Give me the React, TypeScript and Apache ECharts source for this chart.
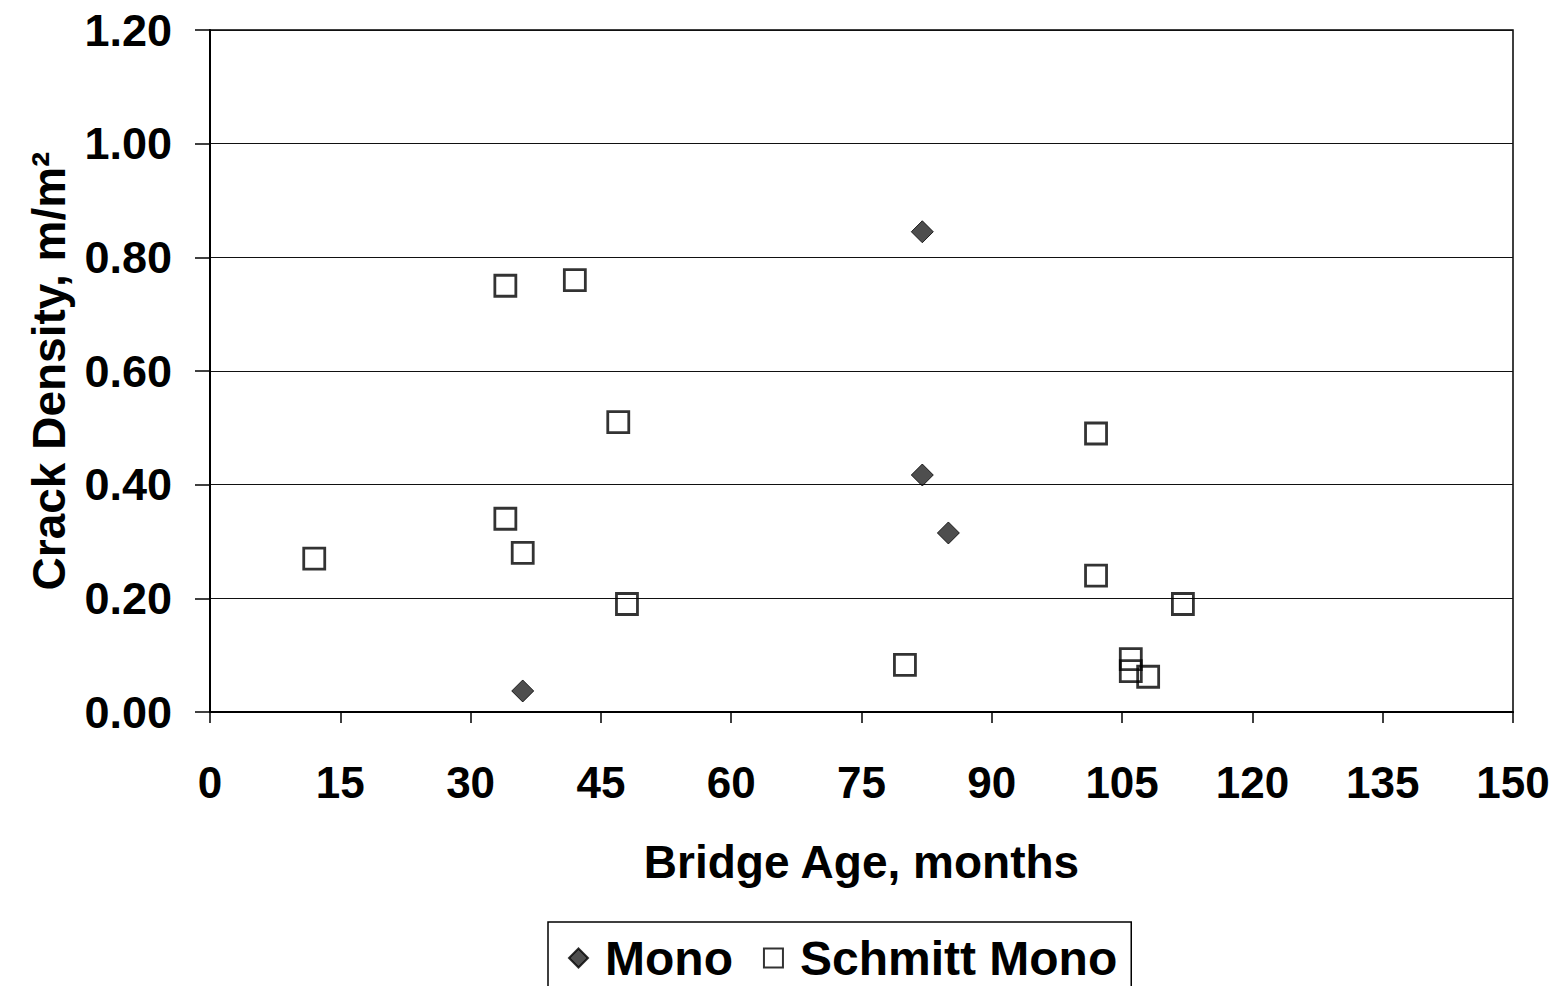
import React, { useEffect, useRef } from "react";
import * as echarts from "echarts";

const monoAge = [82, 82, 85, 36];
const monoDensity = [0.845, 0.417, 0.315, 0.037];

const schmittAge = [12, 34, 42, 47, 34, 36, 48, 80, 102, 102, 112, 106, 106, 108];
const schmittDensity = [0.27, 0.75, 0.76, 0.51, 0.34, 0.28, 0.19, 0.083, 0.49, 0.24, 0.19, 0.093, 0.072, 0.062];

const xTicks = { min: 0, max: 150, interval: 15 };
const yTicks = { min: 0, max: 1.2, interval: 0.2 };

const FONT = "'Liberation Sans', Arial, sans-serif";

export default function App() {
  const ref = useRef<HTMLDivElement>(null);
  useEffect(() => {
    if (!ref.current) return;
    const chart = echarts.init(ref.current, null, { renderer: "svg" });
    const monoData = monoAge.map((x, i) => [x, monoDensity[i]]);
    const schmittData = schmittAge.map((x, i) => [x, schmittDensity[i]]);
    chart.setOption({
      animation: false,
      backgroundColor: "#fff",
      textStyle: { fontFamily: FONT },
      grid: {
        left: 210,
        right: 50,
        top: 30,
        bottom: 274,
        show: true,
        borderColor: "#000",
        borderWidth: 1.5,
        backgroundColor: "transparent",
      },
      xAxis: {
        type: "value",
        min: xTicks.min,
        max: xTicks.max,
        interval: xTicks.interval,
        name: "Bridge Age, months",
        nameLocation: "middle",
        nameGap: 127,
        nameTextStyle: { fontFamily: FONT, fontSize: 46, fontWeight: "bold", color: "#000" },
        axisLine: { show: true, lineStyle: { color: "#000", width: 2 } },
        axisTick: { show: true, length: 11, lineStyle: { color: "#000", width: 1.5 } },
        axisLabel: { margin: 48, fontFamily: FONT, fontSize: 44, fontWeight: "bold", color: "#000" },
        splitLine: { show: false },
      },
      yAxis: {
        type: "value",
        min: yTicks.min,
        max: yTicks.max,
        interval: yTicks.interval,
        name: "Crack Density, m/m²",
        nameLocation: "middle",
        nameGap: 138,
        nameRotate: 90,
        nameTextStyle: { fontFamily: FONT, fontSize: 46, fontWeight: "bold", color: "#000" },
        axisLine: { show: true, lineStyle: { color: "#000", width: 2 } },
        axisTick: { show: true, length: 15, lineStyle: { color: "#000", width: 1.5 } },
        axisLabel: {
          margin: 38,
          fontFamily: FONT,
          fontSize: 45,
          fontWeight: "bold",
          color: "#000",
          formatter: (v: number) => v.toFixed(2),
        },
        splitLine: { show: true, lineStyle: { color: "#111", width: 1.2 } },
      },
      legend: {
        left: 548,
        top: 922,
        orient: "horizontal",
        borderColor: "#000",
        borderWidth: 1.5,
        padding: [12, 14, 30, 20],
        itemGap: 30,
        itemWidth: 19,
        itemHeight: 19,
        textStyle: { fontFamily: FONT, fontSize: 48, fontWeight: "bold", color: "#000", padding: [0, 0, 0, 12] },
        data: ["Mono", "Schmitt Mono"],
      },
      series: [
        {
          name: "Mono",
          type: "scatter",
          symbol: "diamond",
          symbolSize: 22,
          itemStyle: { color: "#222", borderColor: "#000", borderWidth: 1 },
          data: monoData,
          z: 3,
        },
        {
          name: "Schmitt Mono",
          type: "scatter",
          symbol: "rect",
          symbolSize: 21,
          itemStyle: { color: "rgba(255,255,255,0)", borderColor: "#000", borderWidth: 2.8 },
          data: schmittData,
          z: 2,
        },
      ],
    });
    return () => chart.dispose();
  }, []);
  return (
    <div
      ref={ref}
      style={{ position: "fixed", left: 0, top: 0, width: 1563, height: 986 }}
    />
  );
}
